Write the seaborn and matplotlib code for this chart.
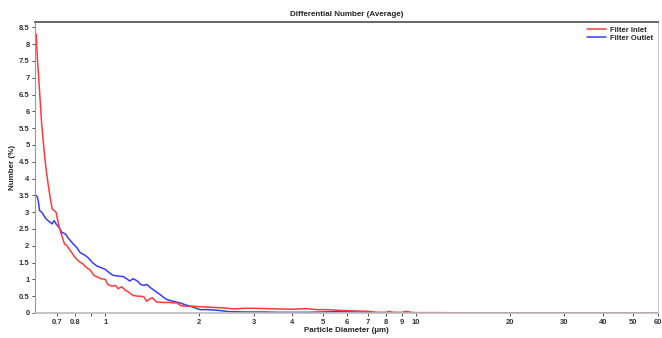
import matplotlib
matplotlib.use("Agg")
import pandas as pd
import matplotlib.pyplot as plt
import seaborn as sns
from matplotlib.ticker import FixedLocator, FixedFormatter, NullLocator

# Data
inlet_d = [0.6, 0.605, 0.615, 0.625, 0.635, 0.645, 0.655, 0.665, 0.675, 0.685, 0.695, 0.70,
           0.71, 0.725, 0.74, 0.75, 0.76, 0.78, 0.80, 0.82, 0.85, 0.87, 0.895, 0.92, 0.94, 0.97,
           1.0, 1.02, 1.05, 1.08, 1.10, 1.13, 1.16, 1.19, 1.23, 1.27, 1.30, 1.33, 1.36, 1.39,
           1.42, 1.46, 1.50, 1.55, 1.60, 1.65, 1.70, 1.75, 1.80, 1.9, 2.0, 2.2, 2.4, 2.6, 2.8,
           3.0, 3.3, 3.6, 4.0, 4.4, 4.8, 5.2, 5.6, 6.0, 6.4, 7.0, 7.5, 8.0, 8.2, 8.4, 9.0, 9.3,
           9.6, 10, 12, 15, 20, 30, 40, 60]
inlet_n = [8.3, 7.6, 6.6, 5.6, 4.9, 4.3, 3.85, 3.45, 3.1, 3.05, 3.0, 2.85,
           2.6, 2.3, 2.05, 2.02, 1.95, 1.8, 1.65, 1.55, 1.45, 1.35, 1.28, 1.12, 1.08, 1.02,
           1.0, 0.85, 0.8, 0.82, 0.72, 0.78, 0.68, 0.62, 0.52, 0.5, 0.5, 0.48, 0.35, 0.42,
           0.45, 0.33, 0.32, 0.31, 0.32, 0.3, 0.3, 0.22, 0.2, 0.2, 0.19, 0.17, 0.15, 0.12, 0.14,
           0.14, 0.13, 0.12, 0.11, 0.13, 0.1, 0.1, 0.08, 0.07, 0.06, 0.05, 0.02, 0.02, 0.05, 0.02,
           0.02, 0.05, 0.02, 0.01, 0.01, 0.0, 0.0, 0.0, 0.0, 0.0]

outlet_d = [0.6, 0.605, 0.61, 0.615, 0.625, 0.635, 0.645, 0.655, 0.665, 0.675, 0.685, 0.695,
            0.71, 0.725, 0.745, 0.765, 0.79, 0.81, 0.83, 0.86, 0.88, 0.91, 0.94, 0.97, 1.0,
            1.03, 1.06, 1.10, 1.145, 1.18, 1.2, 1.23, 1.27, 1.30, 1.33, 1.36, 1.40, 1.45, 1.50,
            1.55, 1.58, 1.65, 1.74, 1.8, 1.88, 1.95, 2.02, 2.15, 2.3, 2.5, 2.8, 3.2, 3.6, 4.0,
            4.5, 5.0, 5.5, 6.0, 6.5, 7.0, 7.5, 10, 60]
outlet_n = [3.5, 3.45, 3.3, 3.05, 3.0, 2.9, 2.8, 2.75, 2.7, 2.65, 2.75, 2.65,
            2.55, 2.4, 2.35, 2.2, 2.05, 1.95, 1.8, 1.72, 1.65, 1.5, 1.4, 1.35, 1.3,
            1.2, 1.12, 1.1, 1.08, 1.0, 0.95, 1.02, 0.95, 0.85, 0.82, 0.85, 0.75, 0.65, 0.55,
            0.45, 0.4, 0.35, 0.3, 0.25, 0.2, 0.15, 0.1, 0.1, 0.08, 0.04, 0.03, 0.03, 0.02, 0.02,
            0.02, 0.03, 0.04, 0.04, 0.03, 0.02, 0.0, 0.0, 0.0]

x_ticks = [0.7, 0.8, 0.9, 1, 2, 3, 4, 5, 6, 7, 8, 9, 10, 20, 30, 40, 50, 60]
x_labels = ["0.7", "0.8", "", "1", "2", "3", "4", "5", "6", "7", "8", "9", "10",
            "20", "30", "40", "50", "60"]

inlet_df = pd.DataFrame({"d": inlet_d, "n": inlet_n})
outlet_df = pd.DataFrame({"d": outlet_d, "n": outlet_n})

sns.set_style("white")
plt.rcParams["font.family"] = ["Liberation Sans", "DejaVu Sans"]

fig = plt.figure(figsize=(6.62, 3.38), dpi=100)
ax = fig.add_axes([0.053, 0.074, 0.941, 0.861])

sns.lineplot(data=outlet_df, x="d", y="n", color="#3a3aff", lw=1.1, ax=ax,
             estimator=None, sort=False, label="Filter Outlet")
sns.lineplot(data=inlet_df, x="d", y="n", color="#ff3a3a", lw=1.1, ax=ax,
             estimator=None, sort=False, label="Filter Inlet")

ax.set_xscale("log")
ax.set_xlim(0.595, 60)
ax.set_ylim(0, 8.66)
ax.xaxis.set_major_locator(FixedLocator(x_ticks))
ax.xaxis.set_major_formatter(FixedFormatter(x_labels))
ax.xaxis.set_minor_locator(NullLocator())
ax.set_yticks([i * 0.5 for i in range(18)])
ax.set_yticklabels([f"{i * 0.5:g}" for i in range(18)])
ax.tick_params(axis="both", which="major", direction="out", length=2.5, width=0.6,
               labelsize=5.5, pad=1.5, bottom=True, left=True, colors="#333333")
for lbl in ax.get_xticklabels() + ax.get_yticklabels():
    lbl.set_fontweight("bold")

ax.set_title("Differential Number (Average)", fontsize=5.8, fontweight="bold", pad=4)
ax.set_xlabel("Particle Diameter (µm)", fontsize=5.8, fontweight="bold", labelpad=1)
ax.set_ylabel("Number (%)", fontsize=5.8, fontweight="bold", labelpad=2)

ax.spines["top"].set_color("#666666")
ax.spines["top"].set_linewidth(1.4)
ax.spines["left"].set_color("#999999")
ax.spines["left"].set_linewidth(0.8)
ax.spines["bottom"].set_color("#bbbbbb")
ax.spines["bottom"].set_linewidth(1.2)
ax.spines["right"].set_color("#cccccc")
ax.spines["right"].set_linewidth(0.8)

handles, labels = ax.get_legend_handles_labels()
ax.legend(handles[::-1], labels[::-1], loc="upper right", frameon=False,
          handlelength=2.5, borderaxespad=0.2, labelspacing=0.1, handletextpad=0.6,
          prop={"weight": "bold", "size": 5.5})

fig.savefig("out.png", dpi=100)
